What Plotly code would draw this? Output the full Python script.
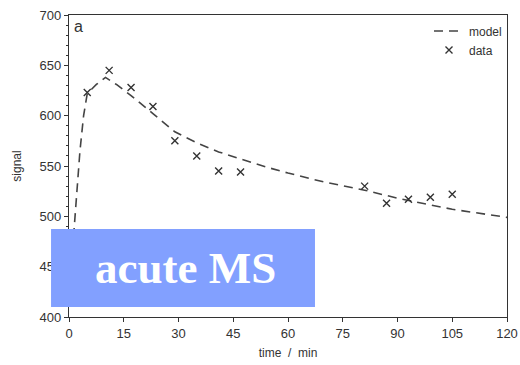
import plotly.graph_objects as go

# data
data_t = [5, 11, 17, 23, 29, 35, 41, 47, 81, 87, 93, 99, 105]
data_signal = [623, 645, 628, 609, 575, 560, 545, 544, 530, 513, 517, 519, 522]

model_t = [0, 1, 2, 3, 4, 5, 7.5, 10, 13, 17, 23, 29, 35, 41, 47, 54, 60, 70, 81, 90, 105, 120]
model_signal = [420, 470, 522, 565, 600, 622, 631, 638, 631, 620, 602, 584, 573, 564, 557, 549, 543, 534, 526, 518, 507, 499]

x_ticks = [0, 15, 30, 45, 60, 75, 90, 105, 120]
y_ticks = [400, 450, 500, 550, 600, 650, 700]

ink = "#333333"

fig = go.Figure()
fig.add_trace(go.Scatter(
    x=model_t, y=model_signal, mode="lines", name="model",
    line=dict(color="#444444", width=1.6, dash="9px,6px"),
))
fig.add_trace(go.Scatter(
    x=data_t, y=data_signal, mode="markers", name="data",
    marker=dict(symbol="x-thin", size=7, line=dict(color=ink, width=1.4), color=ink),
))

axis_common = dict(
    showgrid=False, zeroline=False, showline=True, linecolor=ink, linewidth=1.2,
    mirror=True, ticks="outside", ticklen=4, tickcolor=ink, tickwidth=1.2,
    automargin=False,
    tickfont=dict(family="Liberation Sans, Arial, sans-serif", size=13, color=ink),
)

fig.update_xaxes(
    range=[0, 120], tickvals=x_ticks, **axis_common,
    title=dict(text="time  /  min", font=dict(family="Liberation Sans, Arial, sans-serif", size=12, color=ink), standoff=8),
)
fig.update_yaxes(
    range=[400, 700], tickvals=y_ticks, **axis_common,
    minor=dict(dtick=10, ticks="outside", ticklen=2, tickcolor=ink),
    title=dict(text="signal", font=dict(family="Liberation Sans, Arial, sans-serif", size=12, color=ink), standoff=15),
)

fig.add_shape(
    type="rect", xref="paper", yref="paper",
    x0=-0.041, x1=0.5616, y0=0.033, y1=0.291,
    fillcolor="#82A0FF", line=dict(width=0), layer="above",
)
fig.add_annotation(
    xref="paper", yref="paper", x=0.265, y=0.162, xanchor="center", yanchor="middle",
    showarrow=False, text="<b>acute MS</b>",
    font=dict(family="Liberation Serif, Times New Roman, serif", size=45, color="white"),
)
fig.add_annotation(
    xref="paper", yref="paper", x=0.006, y=0.997, xanchor="left", yanchor="top",
    showarrow=False, text="a",
    font=dict(family="Liberation Sans, Arial, sans-serif", size=16, color=ink),
)

fig.update_layout(
    width=520, height=365,
    margin=dict(l=69, r=13, t=15, b=48, autoexpand=False),
    paper_bgcolor="white", plot_bgcolor="white",
    showlegend=True,
    legend=dict(
        x=1.0, y=0.995, xanchor="right", yanchor="top",
        bgcolor="rgba(0,0,0,0)", itemwidth=30,
        font=dict(family="Liberation Sans, Arial, sans-serif", size=12, color=ink),
        tracegroupgap=0,
    ),
)

fig.write_html("out.html", config={"displayModeBar": False},
               post_script="document.body.style.margin='0';")
